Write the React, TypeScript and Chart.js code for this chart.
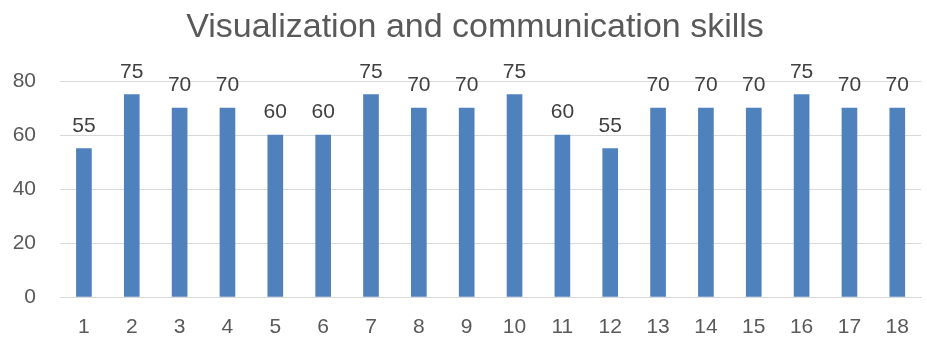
import React, { useEffect, useRef } from "react";
import { Chart, registerables } from "chart.js";

Chart.register(...registerables);

const categories = ["1","2","3","4","5","6","7","8","9","10","11","12","13","14","15","16","17","18"];
const values = [55,75,70,70,60,60,75,70,70,75,60,55,70,70,70,75,70,70];
const yTicks = [0, 20, 40, 60, 80];
const titleText = "Visualization and communication skills";

const FONT = "'Liberation Sans', Arial, sans-serif";

const dataLabels = {
  id: "dataLabels",
  afterDatasetsDraw(chart: any) {
    const ctx = chart.ctx;
    const meta = chart.getDatasetMeta(0);
    ctx.save();
    ctx.font = `21px ${FONT}`;
    ctx.fillStyle = "#404040";
    ctx.textAlign = "center";
    ctx.textBaseline = "alphabetic";
    meta.data.forEach((bar: any, i: number) => {
      ctx.fillText(String(values[i]), bar.x, bar.y - 17);
    });
    ctx.restore();
  },
};

const chartTitle = {
  id: "chartTitle",
  afterDraw(chart: any) {
    const ctx = chart.ctx;
    ctx.save();
    ctx.font = `34px ${FONT}`;
    ctx.fillStyle = "#595959";
    ctx.textAlign = "center";
    ctx.textBaseline = "alphabetic";
    ctx.fillText(titleText, 475, 37);
    ctx.restore();
  },
};

export default function App() {
  const ref = useRef<HTMLCanvasElement>(null);
  useEffect(() => {
    if (!ref.current) return;
    const chart = new Chart(ref.current, {
      type: "bar",
      data: {
        labels: categories,
        datasets: [
          {
            data: values,
            backgroundColor: "#4F81BD",
            borderWidth: 0,
            barThickness: 15,
          },
        ],
      },
      options: {
        animation: false,
        responsive: false,
        maintainAspectRatio: false,
        layout: { padding: { left: 0, right: 1, top: 81, bottom: 0 } },
        plugins: {
          legend: { display: false },
          tooltip: { enabled: false },
          title: { display: false },
        },
        scales: {
          x: {
            grid: { display: false, drawTicks: false },
            border: { display: true, color: "#D9D9D9", width: 1 },
            ticks: {
              color: "#595959",
              font: { family: FONT, size: 21 },
              padding: 18,
            },
            afterFit(scale: any) {
              scale.height = 41;
            },
          },
          y: {
            min: 0,
            max: 80,
            afterBuildTicks(scale: any) {
              scale.ticks = yTicks.map((v) => ({ value: v }));
            },
            grid: { color: "#D9D9D9", drawTicks: false, lineWidth: 1 },
            border: { display: false },
            ticks: {
              color: "#595959",
              font: { family: FONT, size: 21 },
              padding: 24,
            },
            afterFit(scale: any) {
              scale.width = 60;
            },
          },
        },
      },
      plugins: [dataLabels, chartTitle],
    });
    return () => chart.destroy();
  }, []);
  return (
    <div style={{ position: "fixed", left: 0, top: 0, width: 927, height: 338, background: "#fff" }}>
      <canvas ref={ref} width={927} height={338} style={{ width: 927, height: 338 }} />
    </div>
  );
}
